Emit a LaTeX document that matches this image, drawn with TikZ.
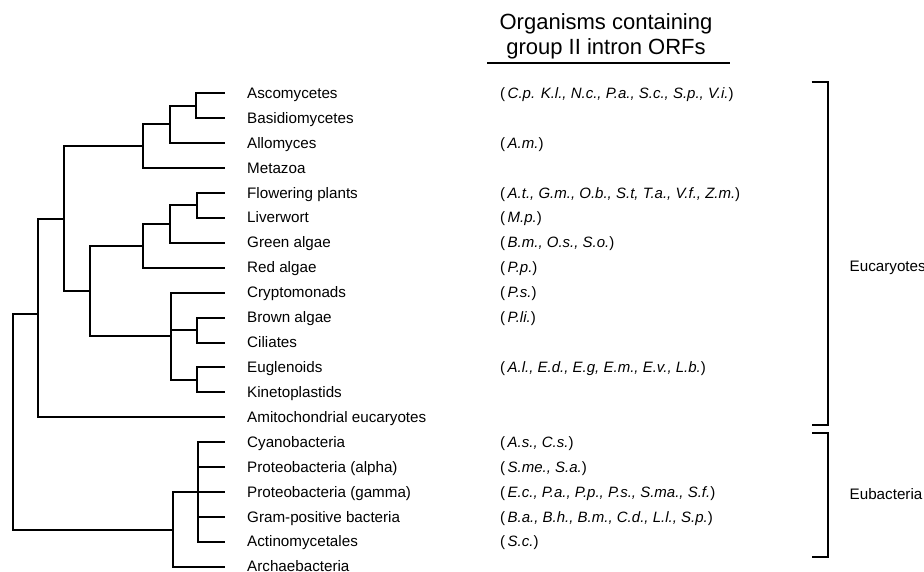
\documentclass[tikz,border=0pt]{standalone}
\usepackage{fontspec}
\setmainfont{Liberation Sans}
\usetikzlibrary{calc}
\tikzset{
  branch/.style={line width=2pt, line join=miter},
  taxon/.style={anchor=base west, inner sep=0pt, font=\fontsize{15.2}{18}\selectfont},
  orfs/.style={anchor=base west, inner sep=0pt, font=\fontsize{15}{18}\selectfont},
  header/.style={anchor=base, inner sep=0pt, font=\fontsize{22}{26}\selectfont},
  bracket/.style={line width=2pt, line join=miter},
}
\newcommand{\orfnames}[1]{(\,\textit{#1})}

\begin{document}
\begin{tikzpicture}[x=1pt,y=-1pt]
  \useasboundingbox (0,0) rectangle (924,572);
  % header
  \node[header] (hd1) at (606,29.5) {Organisms containing};
  \node[header] (hd2) at (606,55) {group II intron ORFs};
  \coordinate (ul-a) at (487,63.3);
  \coordinate (ul-b) at (730,63.3);
  \draw[line width=2pt] (ul-a) -- (ul-b);
  % taxa
  \foreach \name [count=\i from 0] in {Ascomycetes, Basidiomycetes, Allomyces, Metazoa,
      Flowering plants, Liverwort, Green algae, Red algae, Cryptomonads, Brown algae,
      Ciliates, Euglenoids, Kinetoplastids, Amitochondrial eucaryotes, Cyanobacteria,
      Proteobacteria (alpha), Proteobacteria (gamma), Gram-positive bacteria,
      Actinomycetales, Archaebacteria} {
    \coordinate (t\i) at (225,93.3+24.92*\i);
    \node[taxon] (l\i) at (247,98.4+24.92*\i) {\name};
  }
  \foreach \i/\txt in {0/{C.p. K.l., N.c., P.a., S.c., S.p., V.i.}, 2/{A.m.},
      4/{A.t., G.m., O.b., S.t, T.a., V.f., Z.m.}, 5/{M.p.}, 6/{B.m., O.s., S.o.},
      7/{P.p.}, 8/{P.s.}, 9/{P.li.}, 11/{A.l., E.d., E.g, E.m., E.v., L.b.},
      14/{A.s., C.s.}, 15/{S.me., S.a.}, 16/{E.c., P.a., P.p., P.s., S.ma., S.f.},
      17/{B.a., B.h., B.m., C.d., L.l., S.p.}, 18/{S.c.}} {
    \node[orfs] (o\i) at (500,98.4+24.92*\i) {\orfnames{\txt}};
  }
  % junctions
  \coordinate (j1) at (196,105.75);
  \coordinate (j2) at (169.5,124.4);
  \coordinate (j3) at (143,146.2);
  \coordinate (j4) at (196.5,205.35);
  \coordinate (j5) at (170,224);
  \coordinate (j6) at (143.3,245.8);
  \coordinate (j7) at (196.5,329.85);
  \coordinate (j8) at (196.5,379.65);
  \coordinate (j9) at (170.7,336.1);
  \coordinate (j10) at (90,290.9);
  \coordinate (j11) at (64,218.6);
  \coordinate (j12) at (38.3,313.5);
  \coordinate (j13) at (198.3,491.7);
  \coordinate (j14) at (172.7,529.5);
  \coordinate (root) at (12.7,421.5);
  % tree
  \draw[branch] (j1) |- (t0) (j1) |- (t1);
  \draw[branch] (j2) |- (j1) (j2) |- (t2);
  \draw[branch] (j3) |- (j2) (j3) |- (t3);
  \draw[branch] (j4) |- (t4) (j4) |- (t5);
  \draw[branch] (j5) |- (j4) (j5) |- (t6);
  \draw[branch] (j6) |- (j5) (j6) |- (t7);
  \draw[branch] (j7) |- (t9) (j7) |- (t10);
  \draw[branch] (j8) |- (t11) (j8) |- (t12);
  \draw[branch] (j9) |- (t8) (j9) |- (j7) (j9) |- (j8);
  \draw[branch] (j10) |- (j6) (j10) |- (j9);
  \draw[branch] (j11) |- (j3) (j11) |- (j10);
  \draw[branch] (j12) |- (j11) (j12) |- (t13);
  \foreach \k in {14,...,18} {
    \draw[branch] (j13) |- (t\k);
  }
  \draw[branch] (j14) |- (j13) (j14) |- (t19);
  \draw[branch] (root) |- (j12) (root) |- (j14);
  % groups
  \coordinate (euk-top) at (811.5,82.5);
  \coordinate (euk-bot) at (811.5,424.5);
  \coordinate (eub-top) at (812,433.3);
  \coordinate (eub-bot) at (812,556.7);
  \draw[bracket] (euk-top) -- ++(16,0) |- (euk-bot);
  \draw[bracket] (eub-top) -- ++(16,0) |- (eub-bot);
  \node[taxon] (euk) at (849.5,271.2) {Eucaryotes};
  \node[taxon] (eub) at (849.5,499.2) {Eubacteria};
\end{tikzpicture}
\end{document}
